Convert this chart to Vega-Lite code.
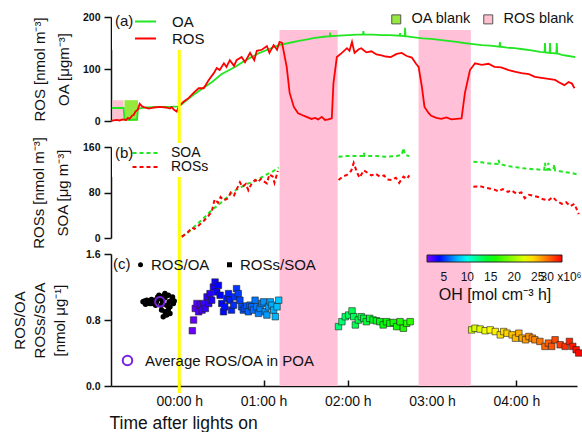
{
  "$schema": "https://vega.github.io/schema/vega-lite/v6.json",
  "background": "white",
  "padding": {"left": 11, "top": 11, "right": 0, "bottom": 6},
  "config": {
    "font": "Liberation Sans",
    "view": {"stroke": null},
    "axis": {
      "grid": false,
      "domainColor": "#111",
      "tickColor": "#111",
      "labelColor": "#111",
      "titleColor": "#111",
      "domainWidth": 1.5,
      "tickWidth": 1.5,
      "titleFontWeight": "normal"
    },
    "legend": {"padding": 0, "labelColor": "#111", "titleColor": "#111", "titleFontWeight": "normal"}
  },
  "datasets": {
    "bands": [{"start": 1.19, "end": 1.88}, {"start": 2.84, "end": 3.46}],
    "blanks": [
      {"start": -0.79, "end": -0.66, "kind": "ROS blank"},
      {"start": -0.65, "end": -0.49, "kind": "OA blank"}
    ],
    "organics": [
      {"t": -0.80, "v": 25, "s": "OA"}, {"t": -0.66, "v": 25, "s": "OA"}, {"t": -0.65, "v": 3, "s": "OA"},
      {"t": -0.58, "v": 2, "s": "OA"}, {"t": -0.50, "v": 3, "s": "OA"}, {"t": -0.49, "v": 24, "s": "OA"},
      {"t": -0.39, "v": 26, "s": "OA"}, {"t": -0.21, "v": 27, "s": "OA"}, {"t": -0.09, "v": 27, "s": "OA"},
      {"t": -0.01, "v": 28, "s": "OA"}, {"t": 0.03, "v": 32, "s": "OA"}, {"t": 0.15, "v": 48, "s": "OA"},
      {"t": 0.27, "v": 62, "s": "OA"}, {"t": 0.39, "v": 75, "s": "OA"}, {"t": 0.50, "v": 90, "s": "OA"},
      {"t": 0.66, "v": 104, "s": "OA"}, {"t": 0.80, "v": 118, "s": "OA"}, {"t": 0.94, "v": 130, "s": "OA"},
      {"t": 1.06, "v": 138, "s": "OA"}, {"t": 1.18, "v": 146, "s": "OA"}, {"t": 1.30, "v": 150, "s": "OA"},
      {"t": 1.42, "v": 154, "s": "OA"}, {"t": 1.52, "v": 157, "s": "OA"}, {"t": 1.61, "v": 160, "s": "OA"},
      {"t": 1.72, "v": 162, "s": "OA"}, {"t": 1.785, "v": 163, "s": "OA"}, {"t": 1.79, "v": 170, "s": "OA"},
      {"t": 1.795, "v": 163, "s": "OA"}, {"t": 1.90, "v": 164, "s": "OA"}, {"t": 2.01, "v": 165, "s": "OA"},
      {"t": 2.11, "v": 166, "s": "OA"}, {"t": 2.18, "v": 166, "s": "OA"}, {"t": 2.185, "v": 173, "s": "OA"},
      {"t": 2.19, "v": 166, "s": "OA"}, {"t": 2.30, "v": 166, "s": "OA"}, {"t": 2.40, "v": 165, "s": "OA"},
      {"t": 2.50, "v": 165, "s": "OA"}, {"t": 2.615, "v": 164, "s": "OA"}, {"t": 2.62, "v": 169, "s": "OA"},
      {"t": 2.625, "v": 164, "s": "OA"}, {"t": 2.675, "v": 163, "s": "OA"}, {"t": 2.68, "v": 179, "s": "OA"},
      {"t": 2.685, "v": 163, "s": "OA"}, {"t": 2.79, "v": 161, "s": "OA"}, {"t": 2.89, "v": 159, "s": "OA"},
      {"t": 2.99, "v": 158, "s": "OA"}, {"t": 3.09, "v": 156, "s": "OA"}, {"t": 3.19, "v": 154, "s": "OA"},
      {"t": 3.29, "v": 152, "s": "OA"}, {"t": 3.38, "v": 150, "s": "OA"}, {"t": 3.49, "v": 148, "s": "OA"},
      {"t": 3.59, "v": 146, "s": "OA"}, {"t": 3.69, "v": 145, "s": "OA"}, {"t": 3.80, "v": 143, "s": "OA"},
      {"t": 3.805, "v": 152, "s": "OA"}, {"t": 3.81, "v": 143, "s": "OA"}, {"t": 3.89, "v": 141, "s": "OA"},
      {"t": 3.98, "v": 140, "s": "OA"}, {"t": 4.08, "v": 138, "s": "OA"}, {"t": 4.18, "v": 136, "s": "OA"},
      {"t": 4.28, "v": 133, "s": "OA"}, {"t": 4.335, "v": 132, "s": "OA"}, {"t": 4.34, "v": 150, "s": "OA"},
      {"t": 4.345, "v": 132, "s": "OA"}, {"t": 4.395, "v": 131, "s": "OA"}, {"t": 4.40, "v": 150, "s": "OA"},
      {"t": 4.405, "v": 131, "s": "OA"}, {"t": 4.475, "v": 130, "s": "OA"}, {"t": 4.48, "v": 150, "s": "OA"},
      {"t": 4.485, "v": 130, "s": "OA"}, {"t": 4.54, "v": 127, "s": "OA"}, {"t": 4.62, "v": 125, "s": "OA"},
      {"t": 4.70, "v": 123, "s": "OA"},
      {"t": -0.81, "v": 0, "s": "ROS"}, {"t": -0.78, "v": 1, "s": "ROS"}, {"t": -0.74, "v": 2, "s": "ROS"},
      {"t": -0.71, "v": 1, "s": "ROS"}, {"t": -0.67, "v": 3, "s": "ROS"}, {"t": -0.63, "v": 2, "s": "ROS"},
      {"t": -0.61, "v": 6, "s": "ROS"}, {"t": -0.59, "v": 4, "s": "ROS"}, {"t": -0.56, "v": 10, "s": "ROS"},
      {"t": -0.54, "v": 12, "s": "ROS"}, {"t": -0.52, "v": 18, "s": "ROS"}, {"t": -0.49, "v": 22, "s": "ROS"},
      {"t": -0.47, "v": 33, "s": "ROS"}, {"t": -0.44, "v": 28, "s": "ROS"}, {"t": -0.41, "v": 26, "s": "ROS"},
      {"t": -0.36, "v": 24, "s": "ROS"}, {"t": -0.30, "v": 26, "s": "ROS"}, {"t": -0.23, "v": 27, "s": "ROS"},
      {"t": -0.16, "v": 26, "s": "ROS"}, {"t": -0.11, "v": 24, "s": "ROS"}, {"t": -0.09, "v": 27, "s": "ROS"},
      {"t": -0.065, "v": 22, "s": "ROS"}, {"t": -0.03, "v": 18, "s": "ROS"}, {"t": -0.006, "v": 28, "s": "ROS"},
      {"t": 0.05, "v": 37, "s": "ROS"}, {"t": 0.11, "v": 44, "s": "ROS"}, {"t": 0.17, "v": 54, "s": "ROS"},
      {"t": 0.23, "v": 63, "s": "ROS"}, {"t": 0.29, "v": 63, "s": "ROS"}, {"t": 0.35, "v": 79, "s": "ROS"},
      {"t": 0.41, "v": 92, "s": "ROS"}, {"t": 0.445, "v": 102, "s": "ROS"}, {"t": 0.48, "v": 98, "s": "ROS"},
      {"t": 0.53, "v": 111, "s": "ROS"}, {"t": 0.56, "v": 104, "s": "ROS"}, {"t": 0.60, "v": 117, "s": "ROS"},
      {"t": 0.65, "v": 106, "s": "ROS"}, {"t": 0.68, "v": 117, "s": "ROS"}, {"t": 0.74, "v": 123, "s": "ROS"},
      {"t": 0.78, "v": 113, "s": "ROS"}, {"t": 0.84, "v": 131, "s": "ROS"}, {"t": 0.89, "v": 117, "s": "ROS"},
      {"t": 0.92, "v": 135, "s": "ROS"}, {"t": 0.98, "v": 137, "s": "ROS"}, {"t": 1.04, "v": 144, "s": "ROS"},
      {"t": 1.07, "v": 131, "s": "ROS"}, {"t": 1.12, "v": 146, "s": "ROS"}, {"t": 1.16, "v": 137, "s": "ROS"},
      {"t": 1.19, "v": 152, "s": "ROS"}, {"t": 1.22, "v": 150, "s": "ROS"}, {"t": 1.275, "v": 104, "s": "ROS"},
      {"t": 1.31, "v": 54, "s": "ROS"}, {"t": 1.36, "v": 27, "s": "ROS"}, {"t": 1.41, "v": 15, "s": "ROS"},
      {"t": 1.45, "v": 12, "s": "ROS"}, {"t": 1.51, "v": 8, "s": "ROS"}, {"t": 1.57, "v": 4, "s": "ROS"},
      {"t": 1.61, "v": 6, "s": "ROS"}, {"t": 1.65, "v": 3, "s": "ROS"}, {"t": 1.69, "v": 8, "s": "ROS"},
      {"t": 1.73, "v": 2, "s": "ROS"}, {"t": 1.77, "v": 3, "s": "ROS"}, {"t": 1.81, "v": 5, "s": "ROS"},
      {"t": 1.83, "v": 73, "s": "ROS"}, {"t": 1.87, "v": 123, "s": "ROS"}, {"t": 1.93, "v": 131, "s": "ROS"},
      {"t": 1.99, "v": 140, "s": "ROS"}, {"t": 2.02, "v": 135, "s": "ROS"}, {"t": 2.05, "v": 152, "s": "ROS"},
      {"t": 2.08, "v": 131, "s": "ROS"}, {"t": 2.13, "v": 138, "s": "ROS"}, {"t": 2.16, "v": 140, "s": "ROS"},
      {"t": 2.22, "v": 132, "s": "ROS"}, {"t": 2.28, "v": 134, "s": "ROS"}, {"t": 2.34, "v": 128, "s": "ROS"},
      {"t": 2.40, "v": 126, "s": "ROS"}, {"t": 2.45, "v": 124, "s": "ROS"}, {"t": 2.51, "v": 123, "s": "ROS"},
      {"t": 2.58, "v": 129, "s": "ROS"}, {"t": 2.64, "v": 131, "s": "ROS"}, {"t": 2.70, "v": 125, "s": "ROS"},
      {"t": 2.76, "v": 122, "s": "ROS"}, {"t": 2.81, "v": 110, "s": "ROS"}, {"t": 2.84, "v": 104, "s": "ROS"},
      {"t": 2.88, "v": 65, "s": "ROS"}, {"t": 2.91, "v": 27, "s": "ROS"}, {"t": 2.96, "v": 15, "s": "ROS"},
      {"t": 2.99, "v": 10, "s": "ROS"}, {"t": 3.05, "v": 6, "s": "ROS"}, {"t": 3.11, "v": 4, "s": "ROS"},
      {"t": 3.17, "v": 7, "s": "ROS"}, {"t": 3.23, "v": 3, "s": "ROS"}, {"t": 3.29, "v": 4, "s": "ROS"},
      {"t": 3.35, "v": 5, "s": "ROS"}, {"t": 3.39, "v": 54, "s": "ROS"}, {"t": 3.45, "v": 98, "s": "ROS"},
      {"t": 3.51, "v": 111, "s": "ROS"}, {"t": 3.59, "v": 108, "s": "ROS"}, {"t": 3.67, "v": 110, "s": "ROS"},
      {"t": 3.74, "v": 104, "s": "ROS"}, {"t": 3.82, "v": 103, "s": "ROS"}, {"t": 3.91, "v": 98, "s": "ROS"},
      {"t": 3.98, "v": 95, "s": "ROS"}, {"t": 4.06, "v": 92, "s": "ROS"}, {"t": 4.15, "v": 90, "s": "ROS"},
      {"t": 4.22, "v": 85, "s": "ROS"}, {"t": 4.30, "v": 83, "s": "ROS"}, {"t": 4.38, "v": 81, "s": "ROS"},
      {"t": 4.46, "v": 79, "s": "ROS"}, {"t": 4.51, "v": 74, "s": "ROS"}, {"t": 4.57, "v": 69, "s": "ROS"},
      {"t": 4.62, "v": 75, "s": "ROS"}, {"t": 4.66, "v": 72, "s": "ROS"}, {"t": 4.69, "v": 63, "s": "ROS"}
    ],
    "secondary": [
      {"t": 0.03, "v": 3, "s": "SOA", "seg": 1}, {"t": 0.09, "v": 8, "s": "SOA", "seg": 1}, {"t": 0.15, "v": 16, "s": "SOA", "seg": 1},
      {"t": 0.21, "v": 24, "s": "SOA", "seg": 1}, {"t": 0.27, "v": 32, "s": "SOA", "seg": 1}, {"t": 0.33, "v": 41, "s": "SOA", "seg": 1},
      {"t": 0.385, "v": 49, "s": "SOA", "seg": 1}, {"t": 0.445, "v": 56, "s": "SOA", "seg": 1}, {"t": 0.50, "v": 63, "s": "SOA", "seg": 1},
      {"t": 0.56, "v": 71, "s": "SOA", "seg": 1}, {"t": 0.62, "v": 79, "s": "SOA", "seg": 1}, {"t": 0.68, "v": 85, "s": "SOA", "seg": 1},
      {"t": 0.74, "v": 90, "s": "SOA", "seg": 1}, {"t": 0.80, "v": 95, "s": "SOA", "seg": 1}, {"t": 0.86, "v": 98, "s": "SOA", "seg": 1},
      {"t": 0.92, "v": 102, "s": "SOA", "seg": 1}, {"t": 0.98, "v": 107, "s": "SOA", "seg": 1}, {"t": 1.04, "v": 112, "s": "SOA", "seg": 1},
      {"t": 1.10, "v": 116, "s": "SOA", "seg": 1}, {"t": 1.14, "v": 120, "s": "SOA", "seg": 1}, {"t": 1.18, "v": 124, "s": "SOA", "seg": 1},
      {"t": 1.89, "v": 143, "s": "SOA", "seg": 2}, {"t": 1.99, "v": 144, "s": "SOA", "seg": 2}, {"t": 2.11, "v": 144, "s": "SOA", "seg": 2},
      {"t": 2.18, "v": 144, "s": "SOA", "seg": 2}, {"t": 2.19, "v": 150, "s": "SOA", "seg": 2}, {"t": 2.20, "v": 144, "s": "SOA", "seg": 2},
      {"t": 2.34, "v": 144, "s": "SOA", "seg": 2}, {"t": 2.46, "v": 143, "s": "SOA", "seg": 2}, {"t": 2.58, "v": 144, "s": "SOA", "seg": 2},
      {"t": 2.64, "v": 146, "s": "SOA", "seg": 2}, {"t": 2.66, "v": 158, "s": "SOA", "seg": 2}, {"t": 2.68, "v": 146, "s": "SOA", "seg": 2},
      {"t": 2.73, "v": 144, "s": "SOA", "seg": 2},
      {"t": 3.49, "v": 134, "s": "SOA", "seg": 3}, {"t": 3.59, "v": 133, "s": "SOA", "seg": 3}, {"t": 3.68, "v": 131, "s": "SOA", "seg": 3},
      {"t": 3.78, "v": 130, "s": "SOA", "seg": 3}, {"t": 3.79, "v": 137, "s": "SOA", "seg": 3}, {"t": 3.80, "v": 130, "s": "SOA", "seg": 3},
      {"t": 3.83, "v": 129, "s": "SOA", "seg": 3}, {"t": 3.92, "v": 126, "s": "SOA", "seg": 3}, {"t": 4.02, "v": 124, "s": "SOA", "seg": 3},
      {"t": 4.11, "v": 122, "s": "SOA", "seg": 3}, {"t": 4.21, "v": 121, "s": "SOA", "seg": 3}, {"t": 4.30, "v": 120, "s": "SOA", "seg": 3},
      {"t": 4.33, "v": 120, "s": "SOA", "seg": 3}, {"t": 4.34, "v": 132, "s": "SOA", "seg": 3}, {"t": 4.35, "v": 120, "s": "SOA", "seg": 3},
      {"t": 4.37, "v": 120, "s": "SOA", "seg": 3}, {"t": 4.38, "v": 132, "s": "SOA", "seg": 3}, {"t": 4.39, "v": 120, "s": "SOA", "seg": 3},
      {"t": 4.44, "v": 120, "s": "SOA", "seg": 3}, {"t": 4.45, "v": 129, "s": "SOA", "seg": 3}, {"t": 4.46, "v": 119, "s": "SOA", "seg": 3},
      {"t": 4.49, "v": 118, "s": "SOA", "seg": 3}, {"t": 4.57, "v": 116, "s": "SOA", "seg": 3}, {"t": 4.66, "v": 114, "s": "SOA", "seg": 3},
      {"t": 4.74, "v": 111, "s": "SOA", "seg": 3},
      {"t": 0.03, "v": 2, "s": "ROSs", "seg": 1}, {"t": 0.10, "v": 10, "s": "ROSs", "seg": 1}, {"t": 0.15, "v": 18, "s": "ROSs", "seg": 1},
      {"t": 0.18, "v": 16, "s": "ROSs", "seg": 1}, {"t": 0.23, "v": 22, "s": "ROSs", "seg": 1}, {"t": 0.29, "v": 30, "s": "ROSs", "seg": 1},
      {"t": 0.34, "v": 38, "s": "ROSs", "seg": 1}, {"t": 0.385, "v": 46, "s": "ROSs", "seg": 1}, {"t": 0.42, "v": 68, "s": "ROSs", "seg": 1},
      {"t": 0.46, "v": 62, "s": "ROSs", "seg": 1}, {"t": 0.49, "v": 72, "s": "ROSs", "seg": 1}, {"t": 0.53, "v": 66, "s": "ROSs", "seg": 1},
      {"t": 0.58, "v": 70, "s": "ROSs", "seg": 1}, {"t": 0.61, "v": 80, "s": "ROSs", "seg": 1}, {"t": 0.65, "v": 75, "s": "ROSs", "seg": 1},
      {"t": 0.68, "v": 85, "s": "ROSs", "seg": 1}, {"t": 0.72, "v": 98, "s": "ROSs", "seg": 1}, {"t": 0.75, "v": 90, "s": "ROSs", "seg": 1},
      {"t": 0.79, "v": 95, "s": "ROSs", "seg": 1}, {"t": 0.82, "v": 84, "s": "ROSs", "seg": 1}, {"t": 0.86, "v": 96, "s": "ROSs", "seg": 1},
      {"t": 0.90, "v": 102, "s": "ROSs", "seg": 1}, {"t": 0.93, "v": 98, "s": "ROSs", "seg": 1}, {"t": 0.97, "v": 104, "s": "ROSs", "seg": 1},
      {"t": 1.00, "v": 100, "s": "ROSs", "seg": 1}, {"t": 1.04, "v": 96, "s": "ROSs", "seg": 1}, {"t": 1.07, "v": 112, "s": "ROSs", "seg": 1},
      {"t": 1.11, "v": 108, "s": "ROSs", "seg": 1}, {"t": 1.13, "v": 97, "s": "ROSs", "seg": 1}, {"t": 1.17, "v": 118, "s": "ROSs", "seg": 1},
      {"t": 1.89, "v": 102, "s": "ROSs", "seg": 2}, {"t": 1.94, "v": 108, "s": "ROSs", "seg": 2}, {"t": 1.99, "v": 111, "s": "ROSs", "seg": 2},
      {"t": 2.04, "v": 118, "s": "ROSs", "seg": 2}, {"t": 2.07, "v": 132, "s": "ROSs", "seg": 2}, {"t": 2.11, "v": 115, "s": "ROSs", "seg": 2},
      {"t": 2.14, "v": 106, "s": "ROSs", "seg": 2}, {"t": 2.19, "v": 119, "s": "ROSs", "seg": 2}, {"t": 2.24, "v": 114, "s": "ROSs", "seg": 2},
      {"t": 2.28, "v": 110, "s": "ROSs", "seg": 2}, {"t": 2.33, "v": 113, "s": "ROSs", "seg": 2}, {"t": 2.38, "v": 108, "s": "ROSs", "seg": 2},
      {"t": 2.43, "v": 110, "s": "ROSs", "seg": 2}, {"t": 2.47, "v": 103, "s": "ROSs", "seg": 2}, {"t": 2.52, "v": 102, "s": "ROSs", "seg": 2},
      {"t": 2.57, "v": 106, "s": "ROSs", "seg": 2}, {"t": 2.61, "v": 97, "s": "ROSs", "seg": 2}, {"t": 2.66, "v": 108, "s": "ROSs", "seg": 2},
      {"t": 2.70, "v": 104, "s": "ROSs", "seg": 2}, {"t": 2.73, "v": 110, "s": "ROSs", "seg": 2},
      {"t": 3.49, "v": 90, "s": "ROSs", "seg": 3}, {"t": 3.57, "v": 91, "s": "ROSs", "seg": 3}, {"t": 3.62, "v": 89, "s": "ROSs", "seg": 3},
      {"t": 3.68, "v": 87, "s": "ROSs", "seg": 3}, {"t": 3.74, "v": 85, "s": "ROSs", "seg": 3}, {"t": 3.79, "v": 82, "s": "ROSs", "seg": 3},
      {"t": 3.84, "v": 86, "s": "ROSs", "seg": 3}, {"t": 3.90, "v": 81, "s": "ROSs", "seg": 3}, {"t": 3.94, "v": 84, "s": "ROSs", "seg": 3},
      {"t": 4.00, "v": 78, "s": "ROSs", "seg": 3}, {"t": 4.06, "v": 80, "s": "ROSs", "seg": 3}, {"t": 4.10, "v": 70, "s": "ROSs", "seg": 3},
      {"t": 4.15, "v": 76, "s": "ROSs", "seg": 3}, {"t": 4.21, "v": 74, "s": "ROSs", "seg": 3}, {"t": 4.26, "v": 72, "s": "ROSs", "seg": 3},
      {"t": 4.32, "v": 68, "s": "ROSs", "seg": 3}, {"t": 4.38, "v": 66, "s": "ROSs", "seg": 3}, {"t": 4.43, "v": 72, "s": "ROSs", "seg": 3},
      {"t": 4.48, "v": 65, "s": "ROSs", "seg": 3}, {"t": 4.54, "v": 60, "s": "ROSs", "seg": 3}, {"t": 4.59, "v": 63, "s": "ROSs", "seg": 3},
      {"t": 4.64, "v": 56, "s": "ROSs", "seg": 3}, {"t": 4.69, "v": 60, "s": "ROSs", "seg": 3}, {"t": 4.74, "v": 42, "s": "ROSs", "seg": 3}
    ],
    "ratio_poa": [
      {"t": -0.43, "r": 1.02}, {"t": -0.41, "r": 1.03}, {"t": -0.40, "r": 0.99}, {"t": -0.385, "r": 1.04},
      {"t": -0.365, "r": 1.01}, {"t": -0.35, "r": 1.00}, {"t": -0.33, "r": 1.05}, {"t": -0.326, "r": 1.00},
      {"t": -0.31, "r": 1.02}, {"t": -0.295, "r": 1.04}, {"t": -0.28, "r": 0.98}, {"t": -0.27, "r": 1.02},
      {"t": -0.255, "r": 1.08}, {"t": -0.24, "r": 1.10}, {"t": -0.23, "r": 1.06}, {"t": -0.215, "r": 0.98},
      {"t": -0.21, "r": 0.92}, {"t": -0.20, "r": 1.03}, {"t": -0.19, "r": 1.09}, {"t": -0.19, "r": 0.84},
      {"t": -0.17, "r": 1.07}, {"t": -0.17, "r": 0.90}, {"t": -0.17, "r": 1.12}, {"t": -0.15, "r": 0.98},
      {"t": -0.15, "r": 0.86}, {"t": -0.13, "r": 0.92}, {"t": -0.13, "r": 1.10}, {"t": -0.12, "r": 1.02},
      {"t": -0.11, "r": 0.96}, {"t": -0.11, "r": 0.88}, {"t": -0.09, "r": 1.04}, {"t": -0.08, "r": 1.08},
      {"t": -0.07, "r": 1.00}, {"t": -0.06, "r": 1.03}
    ],
    "ratio_soa": [
      {"t": 0.155, "r": 0.67, "oh": 1.8}, {"t": 0.17, "r": 0.80, "oh": 1.9}, {"t": 0.19, "r": 0.94, "oh": 2.0},
      {"t": 0.21, "r": 1.00, "oh": 2.2}, {"t": 0.23, "r": 0.90, "oh": 2.3}, {"t": 0.25, "r": 0.98, "oh": 2.4},
      {"t": 0.27, "r": 0.92, "oh": 2.5}, {"t": 0.29, "r": 1.00, "oh": 2.7}, {"t": 0.31, "r": 0.94, "oh": 2.8},
      {"t": 0.33, "r": 1.08, "oh": 2.9}, {"t": 0.35, "r": 1.00, "oh": 3.0}, {"t": 0.365, "r": 1.12, "oh": 3.1},
      {"t": 0.385, "r": 1.04, "oh": 3.3}, {"t": 0.405, "r": 1.20, "oh": 3.4}, {"t": 0.425, "r": 1.26, "oh": 3.5},
      {"t": 0.445, "r": 1.14, "oh": 3.6}, {"t": 0.465, "r": 1.22, "oh": 3.8}, {"t": 0.485, "r": 1.10, "oh": 3.9},
      {"t": 0.505, "r": 1.00, "oh": 4.0}, {"t": 0.525, "r": 0.90, "oh": 4.1}, {"t": 0.54, "r": 0.96, "oh": 4.2},
      {"t": 0.565, "r": 1.06, "oh": 4.4}, {"t": 0.585, "r": 1.12, "oh": 4.5}, {"t": 0.60, "r": 1.04, "oh": 4.6},
      {"t": 0.62, "r": 0.92, "oh": 4.7}, {"t": 0.645, "r": 0.98, "oh": 4.9}, {"t": 0.66, "r": 1.08, "oh": 5.0},
      {"t": 0.68, "r": 1.18, "oh": 5.1}, {"t": 0.70, "r": 1.12, "oh": 5.2}, {"t": 0.72, "r": 1.04, "oh": 5.3},
      {"t": 0.74, "r": 0.96, "oh": 5.5}, {"t": 0.76, "r": 0.92, "oh": 5.6}, {"t": 0.78, "r": 0.94, "oh": 5.7},
      {"t": 0.80, "r": 0.97, "oh": 5.8}, {"t": 0.82, "r": 0.90, "oh": 6.0}, {"t": 0.84, "r": 0.98, "oh": 6.1},
      {"t": 0.86, "r": 0.96, "oh": 6.2}, {"t": 0.88, "r": 0.92, "oh": 6.3}, {"t": 0.90, "r": 1.04, "oh": 6.5},
      {"t": 0.92, "r": 0.96, "oh": 6.6}, {"t": 0.94, "r": 0.88, "oh": 6.7}, {"t": 0.96, "r": 0.94, "oh": 6.8},
      {"t": 0.98, "r": 1.00, "oh": 6.9}, {"t": 1.00, "r": 1.02, "oh": 7.1}, {"t": 1.02, "r": 0.90, "oh": 7.2},
      {"t": 1.04, "r": 0.86, "oh": 7.3}, {"t": 1.06, "r": 0.96, "oh": 7.4}, {"t": 1.08, "r": 1.02, "oh": 7.6},
      {"t": 1.10, "r": 0.98, "oh": 7.7}, {"t": 1.12, "r": 0.92, "oh": 7.8}, {"t": 1.14, "r": 0.84, "oh": 7.9},
      {"t": 1.16, "r": 0.96, "oh": 8.1}, {"t": 1.18, "r": 1.04, "oh": 8.2},
      {"t": 1.89, "r": 0.72, "oh": 12.5}, {"t": 1.93, "r": 0.78, "oh": 12.7}, {"t": 1.97, "r": 0.84, "oh": 12.9},
      {"t": 2.01, "r": 0.86, "oh": 13.1}, {"t": 2.05, "r": 0.91, "oh": 13.3}, {"t": 2.07, "r": 0.84, "oh": 13.3},
      {"t": 2.09, "r": 0.74, "oh": 13.4}, {"t": 2.125, "r": 0.80, "oh": 13.6}, {"t": 2.16, "r": 0.84, "oh": 13.8},
      {"t": 2.19, "r": 0.82, "oh": 13.9}, {"t": 2.22, "r": 0.78, "oh": 14.1}, {"t": 2.26, "r": 0.82, "oh": 14.2},
      {"t": 2.30, "r": 0.80, "oh": 14.4}, {"t": 2.34, "r": 0.79, "oh": 14.6}, {"t": 2.38, "r": 0.78, "oh": 14.8},
      {"t": 2.42, "r": 0.74, "oh": 15.0}, {"t": 2.46, "r": 0.78, "oh": 15.2}, {"t": 2.50, "r": 0.76, "oh": 15.4},
      {"t": 2.54, "r": 0.77, "oh": 15.6}, {"t": 2.58, "r": 0.72, "oh": 15.7}, {"t": 2.62, "r": 0.78, "oh": 15.9},
      {"t": 2.66, "r": 0.70, "oh": 16.1}, {"t": 2.70, "r": 0.76, "oh": 16.3}, {"t": 2.74, "r": 0.78, "oh": 16.5},
      {"t": 3.47, "r": 0.68, "oh": 21.5}, {"t": 3.51, "r": 0.70, "oh": 21.8}, {"t": 3.57, "r": 0.69, "oh": 22.2},
      {"t": 3.63, "r": 0.67, "oh": 22.6}, {"t": 3.69, "r": 0.68, "oh": 23.0}, {"t": 3.75, "r": 0.66, "oh": 23.4},
      {"t": 3.81, "r": 0.62, "oh": 23.8}, {"t": 3.85, "r": 0.66, "oh": 24.0}, {"t": 3.89, "r": 0.64, "oh": 24.3},
      {"t": 3.95, "r": 0.62, "oh": 24.7}, {"t": 3.99, "r": 0.58, "oh": 25.0}, {"t": 4.03, "r": 0.64, "oh": 25.3},
      {"t": 4.07, "r": 0.58, "oh": 25.5}, {"t": 4.11, "r": 0.56, "oh": 25.8}, {"t": 4.15, "r": 0.60, "oh": 26.1},
      {"t": 4.19, "r": 0.58, "oh": 26.3}, {"t": 4.22, "r": 0.56, "oh": 26.5}, {"t": 4.28, "r": 0.54, "oh": 26.9},
      {"t": 4.34, "r": 0.48, "oh": 27.3}, {"t": 4.38, "r": 0.52, "oh": 27.6}, {"t": 4.42, "r": 0.48, "oh": 27.9},
      {"t": 4.46, "r": 0.56, "oh": 28.1}, {"t": 4.52, "r": 0.50, "oh": 28.5}, {"t": 4.58, "r": 0.48, "oh": 28.9},
      {"t": 4.63, "r": 0.54, "oh": 29.3}, {"t": 4.67, "r": 0.48, "oh": 29.5}, {"t": 4.71, "r": 0.44, "oh": 29.8},
      {"t": 4.74, "r": 0.40, "oh": 30.0}
    ],
    "poa_mean": [{"t": -0.23, "r": 1.02}]
  },
  "spacing": 0,
  "bounds": "flush",
  "resolve": {
    "scale": {"stroke": "independent", "fill": "independent", "shape": "independent"},
    "legend": {"stroke": "independent", "fill": "independent", "shape": "independent"}
  },
  "vconcat": [
    {
      "width": 466,
      "height": 104,
      "layer": [
        {
          "data": {"name": "bands"},
          "mark": {"type": "rect", "color": "#ffc0d8"},
          "encoding": {
            "x": {"field": "start", "type": "quantitative", "scale": {"domain": [-0.81, 4.72], "nice": false, "zero": false}, "axis": null},
            "x2": {"field": "end"},
            "y": {"datum": 175, "type": "quantitative", "scale": {"domain": [0, 200], "nice": false}},
            "y2": {"datum": 0}
          }
        },
        {
          "data": {"name": "blanks"},
          "mark": {"type": "rect"},
          "encoding": {
            "x": {"field": "start", "type": "quantitative", "axis": null},
            "x2": {"field": "end"},
            "y": {"datum": 40, "type": "quantitative"},
            "y2": {"datum": 0},
            "fill": {
              "field": "kind", "type": "nominal",
              "scale": {"domain": ["OA blank", "ROS blank"], "range": ["#96e83c", "#ffc0d0"]},
              "legend": {
                "title": null, "orient": "none", "legendX": 278, "legendY": -5,
                "direction": "horizontal", "symbolType": "square", "symbolSize": 81,
                "symbolStrokeColor": "#555", "symbolStrokeWidth": 1,
                "labelFontSize": 14.5, "labelOffset": 8, "columnPadding": 9
              }
            }
          }
        },
        {
          "data": {"name": "organics"},
          "mark": {"type": "line", "strokeWidth": 1.8},
          "encoding": {
            "x": {"field": "t", "type": "quantitative", "axis": null},
            "y": {
              "field": "v", "type": "quantitative",
              "axis": {
                "title": ["ROS [nmol m⁻³]", "OA [μgm⁻³]"],
                "values": [0, 25, 50, 75, 100, 125, 150, 175, 200],
                "labelExpr": "datum.value % 50 === 0 ? datum.label : ''",
                "tickSize": {"condition": {"test": "datum.value % 50 === 0", "value": 7}, "value": 4},
                "labelFontSize": 10.5, "labelFontWeight": "bold", "labelPadding": 4,
                "titleFontSize": 15, "titleLineHeight": 24, "titleX": -63.5, "titleY": 52
              }
            },
            "stroke": {
              "field": "s", "type": "nominal",
              "scale": {"domain": ["OA", "ROS"], "range": ["#22e622", "#ff0000"]},
              "legend": {
                "title": "(a)", "titleOrient": "left", "titleAnchor": "start", "titleFontSize": 15, "titlePadding": 4,
                "orient": "none", "legendX": 1, "legendY": -6, "direction": "vertical",
                "symbolType": "M-2,0H2", "symbolSize": 110, "symbolStrokeWidth": 2,
                "labelFontSize": 15, "labelOffset": 19, "rowPadding": 1,
                "fillColor": "white", "padding": 3
              }
            }
          }
        },
        {
          "data": {"values": [{}]},
          "mark": {"type": "rule", "color": "#ffff00", "strokeWidth": 3},
          "encoding": {
            "x": {"datum": 0, "type": "quantitative", "axis": null},
            "y": {"datum": 200, "type": "quantitative"},
            "y2": {"datum": 0}
          }
        }
      ]
    },
    {
      "width": 466,
      "height": 117,
      "layer": [
        {
          "data": {"name": "bands"},
          "mark": {"type": "rect", "color": "#ffc0d8"},
          "encoding": {
            "x": {"field": "start", "type": "quantitative", "scale": {"domain": [-0.81, 4.72], "nice": false, "zero": false}, "axis": null},
            "x2": {"field": "end"},
            "y": {"datum": 205.7, "type": "quantitative", "scale": {"domain": [0, 160], "range": [117, 26], "nice": false}},
            "y2": {"datum": 0}
          }
        },
        {
          "data": {"values": [{}]},
          "mark": {"type": "rule", "color": "#ffff00", "strokeWidth": 3},
          "encoding": {
            "x": {"datum": 0, "type": "quantitative", "axis": null},
            "y": {"datum": 205.7, "type": "quantitative"},
            "y2": {"datum": 0}
          }
        },
        {
          "data": {"name": "secondary"},
          "mark": {"type": "line", "strokeWidth": 2, "strokeDash": [4, 3]},
          "encoding": {
            "x": {"field": "t", "type": "quantitative", "axis": null},
            "y": {
              "field": "v", "type": "quantitative",
              "axis": {
                "title": ["ROSs [nmol m⁻³]", "SOA [μg m⁻³]"],
                "values": [0, 10, 20, 30, 40, 50, 60, 70, 80, 90, 100, 110, 120, 130, 140, 150, 160],
                "labelExpr": "datum.value % 40 === 0 ? datum.label : ''",
                "tickSize": {"condition": {"test": "datum.value % 40 === 0", "value": 7}, "value": 4},
                "labelFontSize": 10.5, "labelFontWeight": "bold", "labelPadding": 4,
                "titleFontSize": 15, "titleLineHeight": 24, "titleX": -64.5, "titleY": 71.5
              }
            },
            "detail": {"field": "seg", "type": "nominal"},
            "stroke": {
              "field": "s", "type": "nominal",
              "scale": {"domain": ["SOA", "ROSs"], "range": ["#22e622", "#ff0000"]},
              "legend": {
                "title": "(b)", "titleOrient": "left", "titleAnchor": "start", "titleFontSize": 15, "titlePadding": 4,
                "orient": "none", "legendX": 1, "legendY": 22, "direction": "vertical",
                "symbolType": "M-2.5,0H2.5", "symbolSize": 100, "symbolStrokeWidth": 2, "symbolDash": [4, 3],
                "labelFontSize": 14, "labelOffset": 19, "rowPadding": 0,
                "fillColor": "white", "padding": 3
              }
            }
          }
        }
      ]
    },
    {
      "width": 466,
      "height": 148,
      "layer": [
        {
          "data": {"name": "bands"},
          "mark": {"type": "rect", "color": "#ffc0d8"},
          "encoding": {
            "x": {"field": "start", "type": "quantitative", "scale": {"domain": [-0.81, 4.72], "nice": false, "zero": false}},
            "x2": {"field": "end"},
            "y": {"datum": 1.794, "type": "quantitative", "scale": {"domain": [0, 1.6], "range": [148, 16], "nice": false}},
            "y2": {"datum": 0}
          }
        },
        {
          "data": {"name": "ratio_poa"},
          "mark": {"type": "point", "filled": true, "color": "black", "size": 30, "opacity": 1},
          "encoding": {
            "x": {
              "field": "t", "type": "quantitative",
              "axis": {
                "values": [0, 1, 2, 3, 4],
                "labelExpr": "'0' + datum.value + ':00 h'",
                "labelFontSize": 14, "tickSize": -6, "labelPadding": 14,
                "title": "Time after lights on", "titleFontSize": 17.5,
                "titleX": -2, "titleY": 28, "titleAlign": "left", "titleBaseline": "top", "titleAngle": 0
              }
            },
            "y": {
              "field": "r", "type": "quantitative",
              "axis": {
                "title": ["ROS/OA", "ROSs/SOA", "[nmol μg⁻¹]"],
                "values": [0, 0.1, 0.2, 0.3, 0.4, 0.5, 0.6, 0.7, 0.8, 0.9, 1.0, 1.1, 1.2, 1.3, 1.4, 1.5, 1.6],
                "format": ".1f",
                "labelExpr": "round(datum.value * 10) % 4 === 0 ? datum.label : ''",
                "tickSize": {"condition": {"test": "round(datum.value * 10) % 4 === 0", "value": 7}, "value": 4},
                "labelFontSize": 10.5, "labelFontWeight": "bold", "labelPadding": 4,
                "titleFontSize": 15, "titleLineHeight": 20, "titleX": -84, "titleY": 82
              }
            },
            "shape": {
              "datum": "ROS/OA", "type": "nominal",
              "scale": {"domain": ["ROS/OA", "ROSs/SOA"], "range": ["circle", "square"]},
              "legend": {
                "title": "(c)", "titleOrient": "left", "titleAnchor": "start", "titleFontSize": 15, "titlePadding": 2,
                "orient": "none", "legendX": 2, "legendY": 19, "direction": "horizontal",
                "symbolSize": 25, "symbolFillColor": "black", "symbolStrokeColor": "black",
                "labelFontSize": 15, "labelOffset": 3, "columnPadding": 12
              }
            }
          }
        },
        {
          "data": {"name": "ratio_soa"},
          "mark": {"type": "point", "filled": true, "size": 42, "stroke": "#222", "strokeWidth": 0.6, "opacity": 1},
          "encoding": {
            "x": {"field": "t", "type": "quantitative"},
            "y": {"field": "r", "type": "quantitative"},
            "shape": {"datum": "ROSs/SOA", "type": "nominal"},
            "fill": {
              "field": "oh", "type": "quantitative",
              "scale": {
                "domain": [1.4, 3.9, 9.5, 15.2, 23, 30.2],
                "range": ["#8000ff", "#0000ff", "#00ffff", "#00ff00", "#ffff00", "#ff0000"],
                "interpolate": "rgb"
              },
              "legend": {
                "title": "OH [mol cm⁻³ h]", "titleOrient": "bottom", "titleAnchor": "middle",
                "titleFontSize": 16, "titlePadding": 4,
                "orient": "none", "legendX": 316, "legendY": 17, "direction": "horizontal",
                "gradientLength": 135, "gradientThickness": 7,
                "gradientStrokeColor": "#222", "gradientStrokeWidth": 1,
                "values": [5, 10, 15, 20, 25, 30], "labelOverlap": false,
                "labelAlign": "center",
                "labelExpr": "datum.value === 30 ? '\u00a0\u00a0\u00a0\u00a0\u00a030 x10⁶' : datum.label",
                "labelFontSize": 12, "labelOffset": 10
              }
            }
          }
        },
        {
          "data": {"name": "poa_mean"},
          "mark": {"type": "point", "filled": false, "size": 90, "strokeWidth": 2, "opacity": 1},
          "encoding": {
            "x": {"field": "t", "type": "quantitative"},
            "y": {"field": "r", "type": "quantitative"},
            "stroke": {
              "datum": "Average ROS/OA in POA", "type": "nominal",
              "scale": {"domain": ["Average ROS/OA in POA"], "range": ["#7a1ee0"]},
              "legend": {
                "title": null, "orient": "none", "legendX": 9, "legendY": 115,
                "symbolType": "circle", "symbolSize": 90, "symbolStrokeWidth": 2,
                "symbolFillColor": "transparent", "labelFontSize": 15, "labelOffset": 10, "labelLimit": 300
              }
            }
          }
        },
        {
          "data": {"values": [{}]},
          "mark": {"type": "rule", "color": "#ffff00", "strokeWidth": 3},
          "encoding": {
            "x": {"datum": 0, "type": "quantitative"},
            "y": {"datum": 1.794, "type": "quantitative"},
            "y2": {"datum": -0.085}
          }
        }
      ]
    }
  ]
}
